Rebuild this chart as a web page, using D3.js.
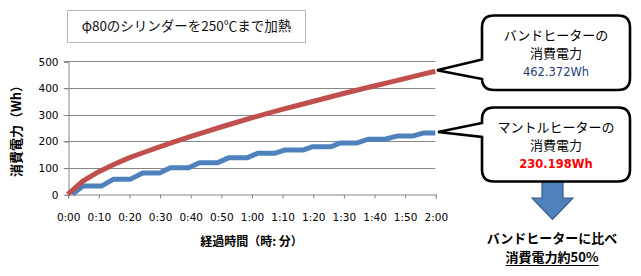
<!DOCTYPE html>
<html><head><meta charset="utf-8">
<script src="https://cdn.jsdelivr.net/npm/d3@7"></script>
<style>
body{margin:0;background:#fff;}
svg{display:block;}
</style></head>
<body>
<svg id="c" width="641" height="276"></svg>
<script>
// ---- data ----
const title = "φ80のシリンダーを250℃まで加熱";
const xTickMinutes = [0,10,20,30,40,50,60,70,80,90,100,110,120];
const xTickLabels = ["0:00","0:10","0:20","0:30","0:40","0:50","1:00","1:10","1:20","1:30","1:40","1:50","2:00"];
const yTicks = [0,100,200,300,400,500];
const yTitle = "消費電力（Wh）";
const xTitle = "経過時間（時: 分）";
// band heater (red) : minutes / Wh
const bandMinutes = [0,5,10,15,20,25,30,35,40,45,50,55,60,65,70,75,80,85,90,95,100,105,110,115,120];
const bandValues  = [0,50,84,112,137,158,178,198,217,235,253,270,287,303,319,334,349,364,379,393,407,421,435,449,462.372];
// mantle heater (blue) : minutes / Wh (stepped)
const mantleMinutes = [1.5,5,11,15,20.5,24.5,30,33.5,39.5,43,49,52.5,58.5,62,67.5,71,77,80,86,89,94.5,98,103.5,107.5,112.5,116,120];
const mantleValues  = [0,31,31,57,57,80,80,100,100,119,119,137,137,154,154,167,167,179,179,193,193,207,207,219,219,230.198,230.198];
const callout1 = ["バンドヒーターの","消費電力","462.372Wh"];
const callout2 = ["マントルヒーターの","消費電力","230.198Wh"];
const conclusion = ["バンドヒーターに比べ","消費電力約50%"];

// ---- chart ----
const svg = d3.select("#c");
const jp = "'Noto Sans CJK JP', 'Noto Sans', sans-serif";
const num = "'DejaVu Sans', Verdana, sans-serif";

const x = d3.scaleLinear().domain([0,120]).range([67.7,435.3]);
const y = d3.scaleLinear().domain([0,500]).range([194.3,61.3]);

// title box
svg.append("rect").attr("x",67.5).attr("y",10.5).attr("width",238).attr("height",32)
  .attr("fill","#fff").attr("stroke","#b8b8b8").attr("stroke-width",1);
svg.append("text").attr("x",186.5).attr("y",31).attr("text-anchor","middle")
  .attr("font-family",jp).attr("font-size",13.5).attr("fill","#111").text(title);

// gridlines
svg.append("g").selectAll("line").data(yTicks.filter(d=>d>0)).join("line")
  .attr("x1",x(0)-4).attr("x2",x(120)).attr("y1",d=>Math.round(y(d))+0.5).attr("y2",d=>Math.round(y(d))+0.5)
  .attr("stroke","#868686").attr("stroke-width",1);

// axes
const yAxis = d3.axisLeft(y).tickValues(yTicks).tickSize(4).tickPadding(6);
const gy = svg.append("g").attr("transform",`translate(${Math.round(x(0))+0.5},0.5)`).call(yAxis);
gy.select(".domain").attr("stroke","#868686");
gy.selectAll(".tick line").attr("stroke","#868686");
gy.selectAll("text").attr("font-family",num).attr("font-size",10.5).attr("fill","#000");

const xAxis = d3.axisBottom(x).tickValues(xTickMinutes).tickFormat((d,i)=>xTickLabels[i]).tickSize(4).tickPadding(15);
const gx = svg.append("g").attr("transform",`translate(0.5,${Math.round(y(0))+0.5})`).call(xAxis);
gx.select(".domain").attr("stroke","#868686");
gx.selectAll(".tick line").attr("stroke","#868686");
gx.selectAll("text").attr("font-family",num).attr("font-size",10.5).attr("fill","#000");

// axis titles
svg.append("text").attr("transform","translate(21,128) rotate(-90)").attr("text-anchor","middle")
  .attr("font-family",jp).attr("font-size",13).attr("font-weight","bold").attr("fill","#000").text(yTitle);
svg.append("text").attr("x",251.5).attr("y",246).attr("text-anchor","middle")
  .attr("font-family",jp).attr("font-size",12).attr("font-weight","bold").attr("fill","#000").text(xTitle);

// series
const line = d3.line().x(d=>x(d[0])).y(d=>y(d[1]));
svg.append("path").datum(mantleMinutes.map((m,i)=>[m,mantleValues[i]]))
  .attr("d",line).attr("fill","none").attr("stroke","#4F81BD").attr("stroke-width",5).attr("stroke-linejoin","round");
svg.append("path").datum(bandMinutes.map((m,i)=>[m,bandValues[i]]))
  .attr("d",line).attr("fill","none").attr("stroke","#C0504D").attr("stroke-width",5).attr("stroke-linejoin","round");

// arrow (behind callout 2)
const ax = 552.5;
svg.append("path")
  .attr("d",`M${ax-10.5},172 H${ax+10.5} V198 H${ax+20.5} L${ax},219.5 L${ax-20.5},198 H${ax-10.5} Z`)
  .attr("fill","#4F81BD").attr("stroke","#385D8A").attr("stroke-width",1.2);

// callouts
function callout(x0,y0,x1,y1,r,t1,t2,tx,ty){
  return `M${x0+r},${y0} H${x1-r} Q${x1},${y0} ${x1},${y0+r} V${y1-r} Q${x1},${y1} ${x1-r},${y1} H${x0+r} Q${x0},${y1} ${x0},${y1-r} V${t2} L${tx},${ty} L${x0},${t1} V${y0+r} Q${x0},${y0} ${x0+r},${y0} Z`;
}
svg.append("path").attr("d",callout(482,15.5,630,90,12,59.5,79,437,y(bandValues[bandValues.length-1])-1))
  .attr("fill","#fff").attr("stroke","#000").attr("stroke-width",2.6).attr("stroke-linejoin","miter");
svg.append("path").attr("d",callout(482,107.5,630,181.5,12,123,137,438,y(mantleValues[mantleValues.length-1])-1))
  .attr("fill","#fff").attr("stroke","#000").attr("stroke-width",2.6).attr("stroke-linejoin","miter");

const cx = 556;
const t1 = svg.append("g").attr("font-family",jp).attr("text-anchor","middle");
t1.append("text").attr("x",cx).attr("y",40).attr("font-size",13).attr("fill","#000").text(callout1[0]);
t1.append("text").attr("x",cx).attr("y",58).attr("font-size",13).attr("fill","#000").text(callout1[1]);
t1.append("text").attr("x",cx).attr("y",76).attr("fill","#1F3D7A").attr("font-family",num).attr("font-size",11.5).text(callout1[2]);
t1.append("text").attr("x",cx).attr("y",132).attr("font-size",13).attr("fill","#000").text(callout2[0]);
t1.append("text").attr("x",cx).attr("y",150).attr("font-size",13).attr("fill","#000").text(callout2[1]);
t1.append("text").attr("x",cx).attr("y",168).attr("font-family",num).attr("font-size",11.5).attr("font-weight","bold").attr("fill","#FF0000").text(callout2[2]);

// conclusion
const cg = svg.append("g").attr("font-family",jp).attr("text-anchor","middle").attr("font-weight","bold").attr("fill","#000");
cg.append("text").attr("x",552).attr("y",243).attr("font-size",13).text(conclusion[0]);
const u = cg.append("text").attr("x",552).attr("y",262).attr("font-size",13).text(conclusion[1]);
const bb = u.node().getBBox();
svg.append("line").attr("x1",bb.x).attr("x2",bb.x+bb.width).attr("y1",265.5).attr("y2",265.5)
  .attr("stroke","#000").attr("stroke-width",1.2);
</script>
</body></html>
